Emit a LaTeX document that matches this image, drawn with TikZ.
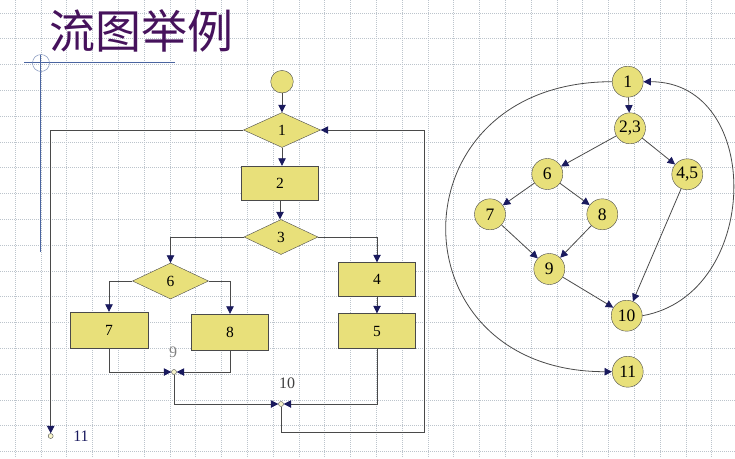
\documentclass[tikz,border=0pt]{standalone}
\usepackage{fontspec}
\setmainfont{Liberation Serif}
\newfontfamily\cjk{Noto Sans CJK SC}
\usepackage{tikz}
\usetikzlibrary{shapes.geometric}
\usetikzlibrary{arrows.meta}
\definecolor{boxfill}{HTML}{E8E07A}
\definecolor{tipblue}{HTML}{1A1A5E}
\definecolor{lineclr}{HTML}{4A4A4A}
\definecolor{gridclr}{HTML}{BCC4CC}
\definecolor{ruleclr}{HTML}{4A64A0}
\definecolor{titleclr}{HTML}{46125C}
\tikzstyle{proc} = [rectangle, draw=lineclr, fill=boxfill, minimum width=77pt, minimum height=35pt, inner sep=0pt, font=\fontsize{15.5}{15.5}\selectfont]
\tikzstyle{cond} = [diamond, draw=lineclr, fill=boxfill, minimum width=77pt, minimum height=35pt, inner sep=0pt, font=\fontsize{15.5}{15.5}\selectfont]
\tikzstyle{junc} = [circle, draw=lineclr, fill=boxfill!40, minimum size=5pt, inner sep=0pt]
\tikzstyle{vtx} = [circle, draw=lineclr, fill=boxfill, minimum size=31pt, inner sep=0pt, font=\fontsize{17.5}{17.5}\selectfont]
\tikzstyle{flow} = [draw=lineclr, line width=0.8pt, -{Triangle[length=7.5pt,width=7.5pt,color=tipblue]}]
\tikzstyle{lab} = [font=\fontsize{16}{16}\selectfont]

\begin{document}
\begin{tikzpicture}[x=1pt,y=-1pt]
				\useasboundingbox[fill=white] (0,0) rectangle (735,458);
				% grid paper
				\foreach \i in {0,...,27}
					\draw[gridclr, dash pattern=on 1pt off 1pt] ({15+25.8*\i},0) -- ({15+25.8*\i},458);
				\foreach \j in {0,...,17}
					\draw[gridclr, dash pattern=on 1pt off 1pt] (0,{12.7+25.8*\j}) -- (735,{12.7+25.8*\j});
				% title
				\node[font=\cjk\fontsize{46}{46}\selectfont, text=titleclr] (ttl) at (141.5,31) {流图举例};
				\draw[ruleclr, line width=1.2pt] (24,62.7) -- (175,62.7);
				\draw[ruleclr, line width=1pt] (40.7,55) -- (40.7,252);
				\draw[ruleclr!80] (41,63) circle (8.5);
				% flow chart
				\node[circle, draw=lineclr, fill=boxfill, minimum size=22.6pt, inner sep=0pt] (st) at (282,81.7) {};
				\node[cond] (d1) at (282,130) {1};
				\node[proc, minimum height=34pt] (b2) at (280,183) {2};
				\node[cond, minimum width=74pt] (d3) at (281,237) {3};
				\node[cond, minimum width=76pt, minimum height=36pt] (d6) at (170.5,281) {6};
				\node[proc, minimum height=34pt] (b4) at (377,279.5) {4};
				\node[proc] (b5) at (377,331) {5};
				\node[proc, minimum width=78pt, minimum height=36pt] (b7) at (109,330) {7};
				\node[proc, minimum height=36pt] (b8) at (230,332) {8};
				\node[junc] (j9) at (174,372) {};
				\node[junc] (j10) at (281,404) {};
				\node[junc] (j11) at (50.7,436) {};
				\node[lab, text=gray] (l9) at (173,352) {9};
				\node[lab, text=black!75] (l10) at (287,383) {10};
				\node[lab, text=tipblue] (l11) at (81,436) {11};
				\coordinate (loopR) at (424.3,432.7);
				\draw[flow] (st) -- (st |- d1.north);
				\draw[flow] (d1.south) -- (d1.south |- b2.north);
				\draw[flow] (b2.south) -- (b2.south |- d3.north);
				\draw[flow] (d3.west) -| (d6.north);
				\draw[flow] (d3.east) -| (b4.north);
				\draw[flow] (b4) -- (b5);
				\draw[flow] (d6.west) -| (b7.north);
				\draw[flow] (d6.east) -| (b8.north);
				\draw[flow] (b7.south) |- (j9.west);
				\draw[flow] (b8.south) |- (j9.east);
				\draw[flow] (j9.south) |- (j10.west);
				\draw[flow] (b5.south) |- (j10.east);
				\draw[flow] (j10.south) |- (loopR) |- (d1.east);
				\draw[flow] (d1.west) -| (j11.north);
				% flow graph
				\node[vtx] (n1) at (627.7,81.7) {1};
				\node[vtx] (n23) at (630,128.3) {2,3};
				\node[vtx] (n6) at (547.3,174) {6};
				\node[vtx] (n45) at (687.3,174.3) {4,5};
				\node[vtx] (n7) at (490,214.3) {7};
				\node[vtx] (n8) at (602.3,214.3) {8};
				\node[vtx] (n9) at (549.3,269) {9};
				\node[vtx] (n10) at (626.7,315.7) {10};
				\node[vtx] (n11) at (627.7,371.7) {11};
				\draw[flow] (n1) -- (n23);
				\draw[flow] (n23) -- (n6);
				\draw[flow] (n23) -- (n45);
				\draw[flow] (n6) -- (n7);
				\draw[flow] (n6) -- (n8);
				\draw[flow] (n7) -- (n9);
				\draw[flow] (n8) -- (n9);
				\draw[flow] (n9) -- (n10);
				\draw[flow] (n45) -- (n10);
				\draw[flow] (n10.east) to[out=10, in=0, looseness=1.32] (n1.east);
				\draw[flow] (n1.west) to[out=180, in=180, looseness=1.95] (n11.west);
			\end{tikzpicture}
\end{document}
